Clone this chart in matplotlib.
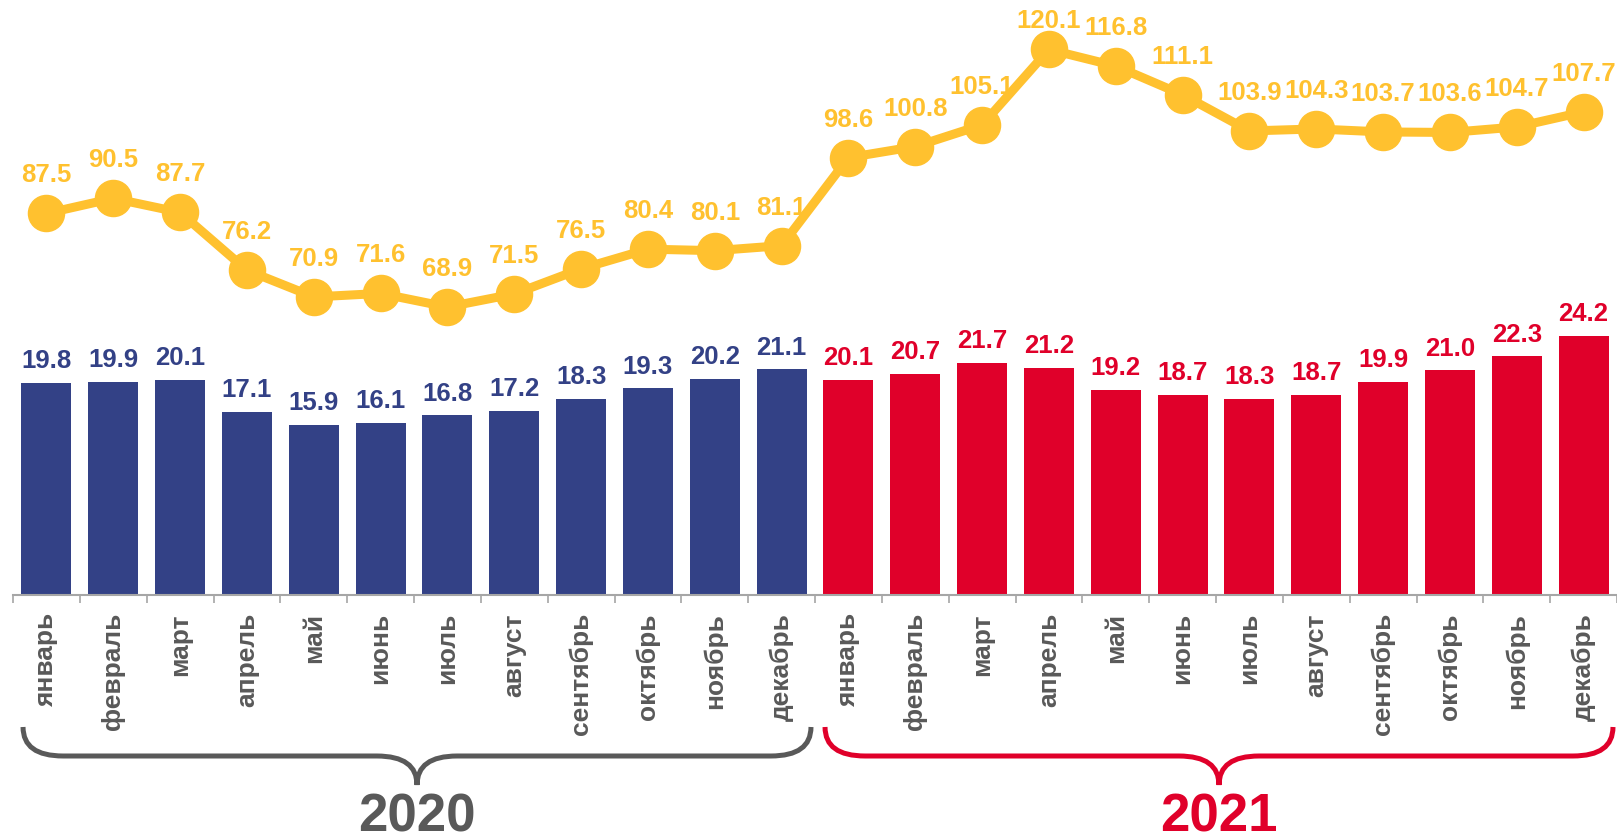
import matplotlib
matplotlib.use("Agg")
import matplotlib.pyplot as plt
from matplotlib.path import Path
from matplotlib.patches import PathPatch
import numpy as np

months = ["январь", "февраль", "март", "апрель", "май", "июнь", "июль",
          "август", "сентябрь", "октябрь", "ноябрь", "декабрь"]
years = ["2020", "2021"]
bars_2020 = [19.8, 19.9, 20.1, 17.1, 15.9, 16.1, 16.8, 17.2, 18.3, 19.3, 20.2, 21.1]
bars_2021 = [20.1, 20.7, 21.7, 21.2, 19.2, 18.7, 18.3, 18.7, 19.9, 21.0, 22.3, 24.2]
line_vals = [87.5, 90.5, 87.7, 76.2, 70.9, 71.6, 68.9, 71.5, 76.5, 80.4, 80.1, 81.1,
             98.6, 100.8, 105.1, 120.1, 116.8, 111.1, 103.9, 104.3, 103.7, 103.6, 104.7, 107.7]

BLUE = "#334186"
RED = "#E0002A"
YELLOW = "#FFC12F"
GRAY = "#595959"
AXGRAY = "#A6A6A6"

plt.rcParams["font.family"] = ["Liberation Sans", "DejaVu Sans"]
plt.rcParams["font.weight"] = "bold"

W, H = 1617, 840
fig = plt.figure(figsize=(W / 100, H / 100), dpi=100)

ax_left = 13 / W
ax_bottom = (H - 595) / H
ax = fig.add_axes([ax_left, ax_bottom, 1 - ax_left, 1 - ax_bottom])

n = len(months) * 2
x = np.arange(n)
bar_vals = bars_2020 + bars_2021
colors = [BLUE] * len(bars_2020) + [RED] * len(bars_2021)
ax.bar(x, bar_vals, width=0.75, color=colors, zorder=2)
for xi, v, c in zip(x, bar_vals, colors):
    ax.annotate(f"{v:.1f}", (xi, v), xytext=(0, 7), textcoords="offset points",
                ha="center", va="bottom", color=c, fontsize=18.5, fontweight="bold")

ax.set_xlim(-0.5, n - 0.5)
ax.set_ylim(0, 595 / 10.7)
ax.set_xticks(x)
ax.set_xticklabels(months + months, rotation=90, fontsize=19, color=GRAY,
                   fontweight="bold", va="top", ha="center")
ax.tick_params(axis="x", which="major", length=0, pad=13)
ax.set_xticks(np.arange(-0.5, n, 1.0), minor=True)
ax.tick_params(axis="x", which="minor", length=6, width=1.2, color=AXGRAY)
ax.set_yticks([])
for s in ["top", "right", "left"]:
    ax.spines[s].set_visible(False)
ax.spines["bottom"].set_color(AXGRAY)
ax.spines["bottom"].set_linewidth(1.5)
ax.patch.set_alpha(0)

# line on twin axis
ax2 = ax.twinx()
px_per_unit = 5.03
ref_v, ref_px = 68.9, 307
lo = ref_v - (595 - ref_px) / px_per_unit
hi = ref_v + ref_px / px_per_unit
ax2.set_ylim(lo, hi)
ax2.set_yticks([])
for s in ax2.spines.values():
    s.set_visible(False)
ax2.plot(x, line_vals, color=YELLOW, lw=6.5, marker="o", markersize=26,
         markerfacecolor=YELLOW, markeredgecolor=YELLOW, zorder=3, solid_capstyle="round")
off = 38 / px_per_unit
cap = hi - 21 / px_per_unit
for xi, v in zip(x, line_vals):
    ly = min(v + off, cap)
    ax2.text(xi, ly, f"{v:.1f}", ha="center", va="center", color=YELLOW,
             fontsize=18.5, fontweight="bold", zorder=2)

# braces + year labels
axb = fig.add_axes([ax_left, 0, 1 - ax_left, 1])
axb.set_xlim(-0.5, n - 0.5)
axb.set_ylim(H, 0)
axb.axis("off")
axb.patch.set_alpha(0)

def brace(x0, x1, color):
    xm = (x0 + x1) / 2
    y_top, y_mid, y_tip = 727, 756, 785
    rx = 0.6
    verts = [(x0, y_top), (x0, y_mid), (x0 + rx, y_mid),
             (xm - rx, y_mid),
             (xm, y_mid), (xm, y_tip),
             (xm, y_mid), (xm + rx, y_mid),
             (x1 - rx, y_mid),
             (x1, y_mid), (x1, y_top)]
    codes = [Path.MOVETO, Path.CURVE3, Path.CURVE3,
             Path.LINETO,
             Path.CURVE3, Path.CURVE3,
             Path.CURVE3, Path.CURVE3,
             Path.LINETO,
             Path.CURVE3, Path.CURVE3]
    axb.add_patch(PathPatch(Path(verts, codes), fill=False, edgecolor=color,
                            lw=3.6, capstyle="butt"))
    return xm

m = len(months)
ycols = [GRAY, RED]
for i, (yr, c) in enumerate(zip(years, ycols)):
    x0 = i * m - 0.5 + 0.15
    x1 = (i + 1) * m - 0.5 - 0.06
    xm = brace(x0, x1, c)
    axb.text(xm, 817, yr, ha="center", va="center", color=c,
             fontsize=38, fontweight="bold")

fig.savefig("out.png", dpi=100)
